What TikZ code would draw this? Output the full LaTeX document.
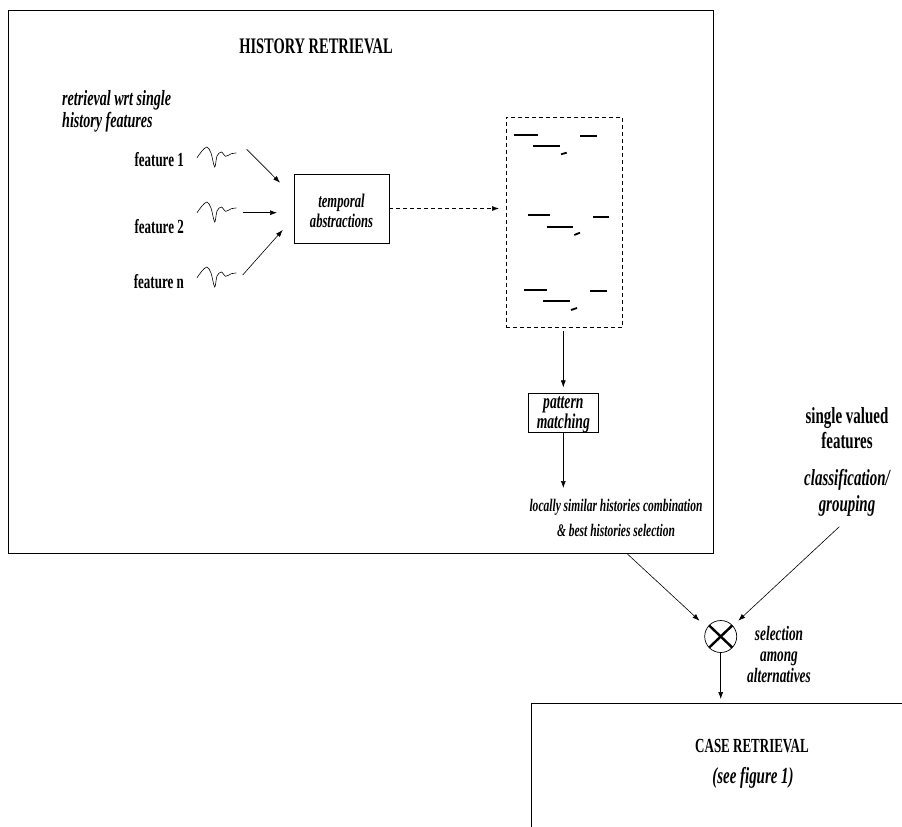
\documentclass[tikz,border=0pt]{standalone}
\usepackage{fontspec}
\setmainfont{Liberation Serif}[FakeStretch=0.65]
\usetikzlibrary{arrows.meta,calc}
\begin{document}
\begin{tikzpicture}[x=1pt,y=-1pt,
  box/.style={draw, line width=0.8pt, inner sep=0pt},
  arr/.style={-{Latex[length=7pt,width=5pt]}, line width=0.6pt},
  dasharr/.style={-{Latex[length=7pt,width=5pt]}, line width=0.6pt, dash pattern=on 4pt off 3pt},
  seg/.style={line width=1.8pt},
  bi/.style 2 args={font=\fontsize{#1}{#2}\selectfont\bfseries\itshape, align=center, inner sep=0pt},
  bo/.style 2 args={font=\fontsize{#1}{#2}\selectfont\bfseries, align=center, inner sep=0pt},
  squig/.pic={\draw[line width=0.6pt] plot[smooth, tension=0.55] coordinates {(0,10.7) (5,4) (10,0) (14,6) (17.7,20) (20,9) (24.3,5) (28.7,9.3) (34.3,6.7) (39.3,6)};}
]
\useasboundingbox (0,0) rectangle (902,827);
% history retrieval box
\node[box, anchor=north west, minimum width=705pt, minimum height=543pt] (hist) at (8,10) {};
\node[bo={22.2}{24}] (htitle) at (316,46) {HISTORY RETRIEVAL};
\node[bi={21.7}{22}, align=left, anchor=west] (wrt) at (62,111) {retrieval wrt single\\history features};
% features
\node[bo={20}{20}, anchor=east] (f1) at (184,160) {feature 1};
\node[bo={20}{20}, anchor=east] (f2) at (184,227) {feature 2};
\node[bo={20}{20}, anchor=east] (fn) at (184,282) {feature n};
\pic at (197,147) {squig};
\pic at (197,202) {squig};
\pic at (197,267) {squig};
\coordinate (s1) at (246.7,149.3);
\coordinate (s2) at (242.7,212.7);
\coordinate (s3) at (242.7,275);
\coordinate (t1) at (280,182.7);
\coordinate (t2) at (277,212.7);
\coordinate (t3) at (282.7,230);
\draw[arr] (s1) -- (t1);
\draw[arr] (s2) -- (t2);
\draw[arr] (s3) -- (t3);
% temporal abstractions
\node[box, minimum width=95pt, minimum height=69.5pt] (temp) at (341.5,208.7) {};
\node[bi={19.4}{20}] (templ) at (341.5,210.5) {temporal\\abstractions};
% dashed box
\node[box, dash pattern=on 4pt off 3pt, line width=0.7pt, minimum width=116.7pt, minimum height=210pt] (dbox) at (564.3,222) {};
\coordinate (dtip) at (499,208.5);
\draw[dasharr] (temp.east |- dtip) -- (dtip);
% segments
\draw[seg] (514.3,135) -- (537.7,135);
\draw[seg] (580,136) -- (596.7,136);
\draw[seg] (533.3,146) -- (560,146);
\draw[seg] (561,154.3) -- (566.7,152.7);
\draw[seg] (527.7,215.3) -- (550,215.3);
\draw[seg] (593.3,216.7) -- (609.3,216.7);
\draw[seg] (546.7,227.3) -- (572.7,227.3);
\draw[seg] (574.3,235) -- (580,232.7);
\draw[seg] (524.3,290) -- (546.7,290);
\draw[seg] (590,291.3) -- (606.7,291.3);
\draw[seg] (543.3,301) -- (570,301);
\draw[seg] (571,310) -- (577,308);
% pattern matching
\node[box, minimum width=70pt, minimum height=39pt] (pm) at (563.3,413.3) {};
\node[bi={21}{20}] (pml) at (563.3,414.5) {pattern\\matching};
\draw[arr, shorten <=4pt, shorten >=6pt] (dbox.south -| pm.north) -- (pm.north);
\coordinate (ltip) at (563.3,488);
\draw[arr] (pm.south) -- (ltip);
\node[bi={17.7}{25}] (local) at (616,518) {locally similar histories combination\\\& best histories selection};
% right side
\node[bo={23}{25}] (svf) at (847,428) {single valued\\features};
\node[bi={23}{26}] (cls) at (847,493) {classification/\\grouping};
% combination
\node[draw, circle, line width=0.7pt, minimum size=32pt, inner sep=0pt] (comb) at (720.7,636.5) {};
\draw[line width=2.4pt] ($(comb)+(-11.5,-11)$) -- ($(comb)+(11.5,11)$);
\draw[line width=2.4pt] ($(comb)+(-11.5,11)$) -- ($(comb)+(11.5,-11)$);
\coordinate (la) at (626.7,553.3);
\coordinate (latip) at (699.5,620.7);
\coordinate (ra) at (839.3,526.7);
\coordinate (ratip) at (738.3,620.7);
\draw[arr] (la) -- (latip);
\draw[arr] (ra) -- (ratip);
\node[bi={20.5}{21}] (sel) at (779,654) {selection\\among\\alternatives};
% case retrieval
\node[box, anchor=north west, minimum width=400pt, minimum height=200pt] (case) at (531,703) {};
\draw[arr, shorten >=4pt] (comb.south) -- (case.north -| comb.south);
\node[bo={20}{20}] (ctitle) at (752,746) {CASE RETRIEVAL};
\node[bi={23}{22}] (see) at (753,778) {(see figure 1)};
\end{tikzpicture}
\end{document}
